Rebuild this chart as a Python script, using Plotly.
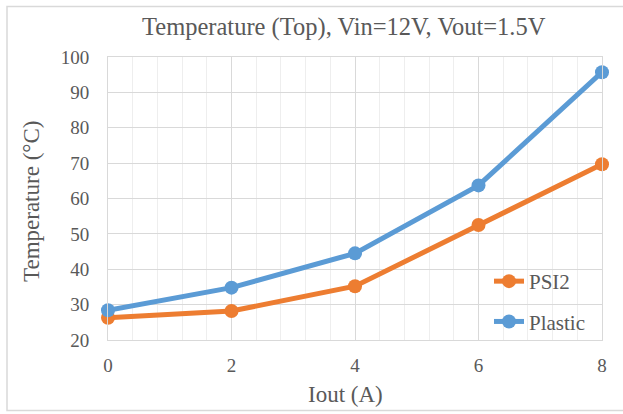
import plotly.graph_objects as go

iout = [0, 2, 4, 6, 8]
psi2 = [26.3, 28.2, 35.2, 52.5, 69.7]
plastic = [28.4, 34.8, 44.5, 63.7, 95.7]
series_names = ["PSI2", "Plastic"]
colors = ["#ED7D31", "#5B9BD5"]
x_ticks = [0, 2, 4, 6, 8]
y_ticks = [20, 30, 40, 50, 60, 70, 80, 90, 100]

FONT = "Liberation Serif, Times New Roman, serif"
GRAY = "#595959"

fig = go.Figure()
for name, vals, col in zip(series_names, [psi2, plastic], colors):
    fig.add_trace(go.Scatter(
        x=iout, y=vals, name=name, mode="lines+markers",
        line=dict(color=col, width=5),
        marker=dict(color=col, size=14),
        cliponaxis=False, legendgroup=name,
    ))

W, H = 623, 414
L, R, T, B = 108, 21, 57, 74
pw, ph = W - L - R, H - T - B

def px(x):
    return (x - L) / pw

def py(y):
    return (H - B - y) / ph

fig.update_layout(
    width=W, height=H,
    margin=dict(l=L, r=R, t=T, b=B),
    paper_bgcolor="white", plot_bgcolor="white",
    font=dict(family=FONT, color=GRAY, size=19),
    showlegend=True,
    legend=dict(
        x=px(489), y=py(261), xanchor="left", yanchor="top",
        bgcolor="rgba(0,0,0,0)", font=dict(size=21, family=FONT, color=GRAY),
        tracegroupgap=10, itemwidth=30,
    ),
    xaxis=dict(
        range=[0, 8], tickvals=x_ticks, showgrid=True, gridcolor="#d9d9d9", gridwidth=1,
        minor=dict(dtick=0.4, showgrid=True, gridcolor="#eeeeee", gridwidth=1),
        showline=True, linecolor="#d9d9d9", linewidth=1, mirror=True,
        zeroline=False, ticks="", ticklabelstandoff=8,
        tickfont=dict(size=19, family=FONT, color=GRAY),
    ),
    yaxis=dict(
        range=[20, 100], tickvals=y_ticks, showgrid=True, gridcolor="#d9d9d9", gridwidth=1,
        showline=True, linecolor="#d9d9d9", linewidth=1, mirror=True,
        zeroline=False, ticks="", ticklabelstandoff=14,
        tickfont=dict(size=19, family=FONT, color=GRAY),
    ),
    annotations=[
        dict(text="Temperature (Top), Vin=12V, Vout=1.5V", xref="paper", yref="paper",
             x=px(344), y=py(27), xanchor="center", yanchor="middle", showarrow=False,
             font=dict(size=24.5, family=FONT, color=GRAY)),
        dict(text="Iout (A)", xref="paper", yref="paper",
             x=px(345), y=py(394), xanchor="center", yanchor="middle", showarrow=False,
             font=dict(size=23, family=FONT, color=GRAY)),
        dict(text="Temperature (°C)", xref="paper", yref="paper", textangle=-90,
             x=px(31), y=py(202), xanchor="center", yanchor="middle", showarrow=False,
             font=dict(size=23, family=FONT, color=GRAY)),
    ],
    shapes=[
        dict(type="rect", xref="paper", yref="paper", x0=px(7), x1=px(640),
             y0=py(410.5), y1=py(6.5), line=dict(color="#d9d9d9", width=1.5),
             fillcolor="rgba(0,0,0,0)", layer="below"),
    ],
)

fig.write_html("out.html")
